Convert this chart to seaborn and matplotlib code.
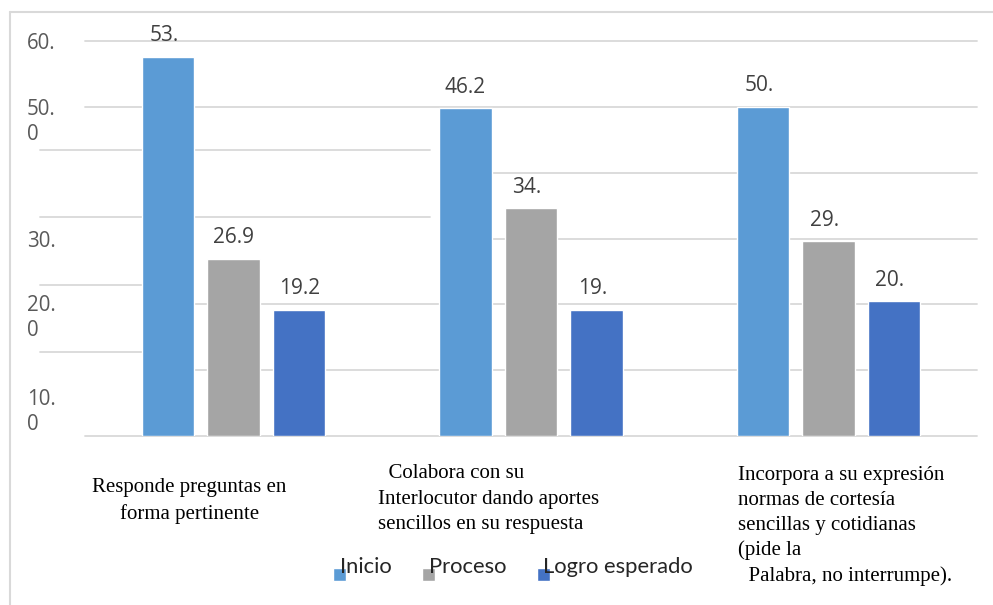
import matplotlib
matplotlib.use("Agg")
import matplotlib.pyplot as plt
from matplotlib.lines import Line2D
from matplotlib.patches import Rectangle
from matplotlib.legend_handler import HandlerPatch
from matplotlib.font_manager import FontProperties
import seaborn as sns
import pandas as pd

# ---------------- data ----------------
categories = [
    "Responde preguntas en\nforma pertinente",
    "  Colabora con su\nInterlocutor dando aportes\nsencillos en su respuesta",
    "Incorpora a su expresión\nnormas de cortesía\nsencillas y cotidianas\n(pide la\n  Palabra, no interrumpe).",
]
series = ["Inicio", "Proceso", "Logro esperado"]
inicio = [57.6, 49.8, 50.0]
proceso = [26.9, 34.6, 29.6]
logro = [19.2, 19.2, 20.5]
inicio_labels = ["53.", "46.2", "50."]
proceso_labels = ["26.9", "34.", "29."]
logro_labels = ["19.2", "19.", "20."]
ytick_labels = ["60.", "50.\n0", "30.", "20.\n0", "10.\n0"]
colors = ["#5B9BD5", "#A5A5A5", "#4472C4"]

rows = []
for s, vals in zip(series, [inicio, proceso, logro]):
    for c, v in zip(categories, vals):
        rows.append({"cat": c, "serie": s, "val": v})
df = pd.DataFrame(rows)

# ---------------- figure ----------------
sns.set_style("white")
W, H = 993, 605
fig = plt.figure(figsize=(W / 100, H / 100), dpi=100)
ax = fig.add_axes([85 / W, 169 / H, 892 / W, 395 / H])

sns.barplot(data=df, x="cat", y="val", hue="serie", order=categories,
            hue_order=series, palette=colors, saturation=1, width=0.661,
            gap=0.2, errorbar=None, ax=ax, zorder=3)

ax.set_xlim(-0.5, 2.5)
ax.set_ylim(0, 60)
for sp in ax.spines.values():
    sp.set_visible(False)
ax.grid(False)
ax.set_xlabel("")
ax.set_ylabel("")
ax.set_xticks([])

# y tick labels (as in the reference)
ytick_pos = [59.55, 47.74, 29.62, 17.92, 3.65]
ax.set_yticks(ytick_pos, labels=ytick_labels)
ax.tick_params(axis="y", length=0, pad=41.8)
for t in ax.get_yticklabels():
    t.set_ha("left")
    t.set_va("center")
    t.set_color("#595959")
    t.set_fontfamily("Open Sans")
    t.set_fontsize(14.8)
    t.set_linespacing(1.25)

# gridlines
gcol = "#d9d9d9"
glw = 1.3
for v, x0 in [(0, 0), (50, 0), (60, 0), (10, 0.121), (20, 0.121), (30, 0.454), (40, 0.454)]:
    ax.axhline(v, xmin=x0, xmax=1, color=gcol, lw=glw, zorder=1, clip_on=False)
for v, x1 in [(43.45, 0.387), (33.27, 0.387), (22.94, 0.121), (12.76, 0.121)]:
    ax.axhline(v, xmin=-0.0504, xmax=x1, color=gcol, lw=glw, zorder=1, clip_on=False)

# value labels
for cont, labs in zip(ax.containers, [inicio_labels, proceso_labels, logro_labels]):
    for bar, lab in zip(cont, labs):
        cx = bar.get_x() + bar.get_width() / 2
        top = bar.get_y() + bar.get_height()
        dx = -2.9 if lab.endswith(".") else 0
        ax.annotate(lab, (cx, top), xytext=(dx, 15.1), textcoords="offset points",
                    ha="center", va="center", fontsize=15, family="Open Sans",
                    color="#404040", zorder=2)

# category labels
tr = ax.get_xaxis_transform()
cat_pos = [(-0.148, -0.165, "center", 1.45), (0.486, -0.160, "left", 1.45),
           (1.697, -0.228, "left", 1.4)]
for c, (x, y, ha, ls) in zip(categories, cat_pos):
    ax.text(x, y, c, transform=tr, ha=ha, va="center", multialignment=ha,
            family="Liberation Serif", fontsize=15, color="black", linespacing=ls)

# legend
def square_patch(legend, orig_handle, xdescent, ydescent, width, height, fontsize):
    return Rectangle((-xdescent, -ydescent - 0.42 * fontsize), width, height)

sns.move_legend(ax, "lower left", bbox_to_anchor=(333 / W, 28 / H),
                bbox_transform=fig.transFigure, ncol=3, frameon=False, title=None,
                handlelength=0.6, handleheight=0.6, handletextpad=-0.3,
                columnspacing=1.4, borderpad=0, borderaxespad=0,
                prop=FontProperties(family="Lato", size=15.8),
                handler_map={Rectangle: HandlerPatch(patch_func=square_patch)})

# outer border (top and left)
bcol = "#d9d9d9"
fig.add_artist(Line2D([10 / W, 1], [1 - 12 / H, 1 - 12 / H], transform=fig.transFigure,
                      color=bcol, lw=1.5))
fig.add_artist(Line2D([10 / W, 10 / W], [0, 1 - 12 / H], transform=fig.transFigure,
                      color=bcol, lw=1.5))

fig.savefig("out.png", dpi=100)
